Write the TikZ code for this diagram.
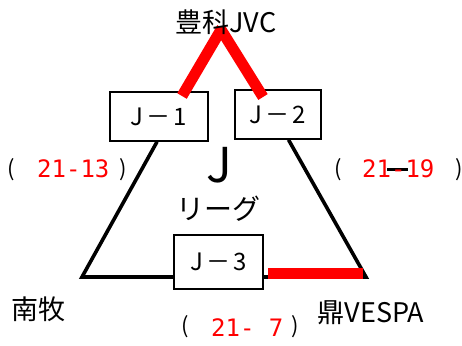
\documentclass[tikz,border=0pt]{standalone}
\usepackage{fontspec}
\setmainfont{Noto Sans CJK JP}
\newfontfamily\monofnt{DejaVu Sans Mono}
\usetikzlibrary{calc}
\tikzset{
  jbox/.style={draw=black, line width=1.6pt, fill=white, rectangle, inner sep=0pt,
    font=\fontsize{24}{28}\selectfont},
  triline/.style={draw=black, line width=3.6pt, line join=miter},
  redbar/.style={draw=red, line width=11pt, line cap=butt},
  lbl/.style={inner sep=0pt, anchor=base, font=\fontsize{27}{30}\selectfont},
  score/.style={inner sep=0pt, anchor=base west, text=red, font=\monofnt\fontsize{24}{28}\selectfont},
  paren/.style={inner sep=0pt, anchor=center, font=\fontsize{22}{24}\selectfont}
}
\newcommand{\jlab}[1]{J\hspace{3pt}－\hspace{3pt}#1}
\begin{document}
\begin{tikzpicture}[x=1pt,y=-1pt]
\useasboundingbox (0,0) rectangle (462,345);
% corners of the triangle
\coordinate (bl) at (82,277);
\coordinate (br) at (366,277);
% boxes
\node[jbox, minimum width=98pt, minimum height=49pt] (j1) at (159,116.5) {\jlab{1}};
\node[jbox, minimum width=86pt, minimum height=49pt] (j2) at (278,114.5) {\jlab{2}};
\node[jbox, minimum width=89pt, minimum height=54pt] (j3) at (218.5,262) {\jlab{3}};
% triangle sides
\draw[triline] ($(j1.south west)!0.48!(j1.south east)$) -- (bl) -- (j3.west |- bl);
\draw[triline] ($(j2.south west)!0.62!(j2.south east)$) -- (br) -- (j3.east |- br);
% redraw boxes on top of the lines
\node[jbox, minimum width=98pt, minimum height=49pt] at (j1) {\jlab{1}};
\node[jbox, minimum width=86pt, minimum height=49pt] at (j2) {\jlab{2}};
\node[jbox, minimum width=89pt, minimum height=54pt] at (j3) {\jlab{3}};
% red bars
\coordinate (rl1) at (182,96);
\coordinate (rl2) at (222,28);
\coordinate (rr1) at (220,28);
\coordinate (rr2) at (263,97);
\coordinate (rb1) at (268,273.5);
\coordinate (rb2) at (363,273.5);
\draw[redbar] (rl1) -- (rl2);
\draw[redbar] (rr1) -- (rr2);
\draw[redbar] (rb1) -- (rb2);
% team names
\node[lbl] (top) at (226,33) {豊科JVC};
\node[lbl] (nm) at (38,319) {南牧};
\node[lbl] (vs) at (371,322) {鼎VESPA};
% center title
\node[inner sep=0pt, anchor=base, font=\fontsize{48}{52}\selectfont] (bigj) at (219,182) {J};
\node[inner sep=0pt, anchor=base, font=\fontsize{28}{32}\selectfont] (lg) at (218,219) {リーグ};
% scores
\node[paren] (pl1) at (11.5,170) {(};
\node[score] (s1) at (37,177) {21-13};
\node[paren] (pl2) at (123.5,170) {)};
\coordinate (d1) at (387,169.5);
\coordinate (d2) at (408,169.5);
\draw[black, line width=2.6pt] (d1) -- (d2);
\node[paren] (pr1) at (338,170) {(};
\node[score] (s2) at (362,177) {21-19};
\node[paren] (pr2) at (459,170) {)};
\node[paren] (pb1) at (185,327) {(};
\node[score] (s3) at (211,336) {21- 7};
\node[paren] (pb2) at (295,327) {)};
\end{tikzpicture}
\end{document}
